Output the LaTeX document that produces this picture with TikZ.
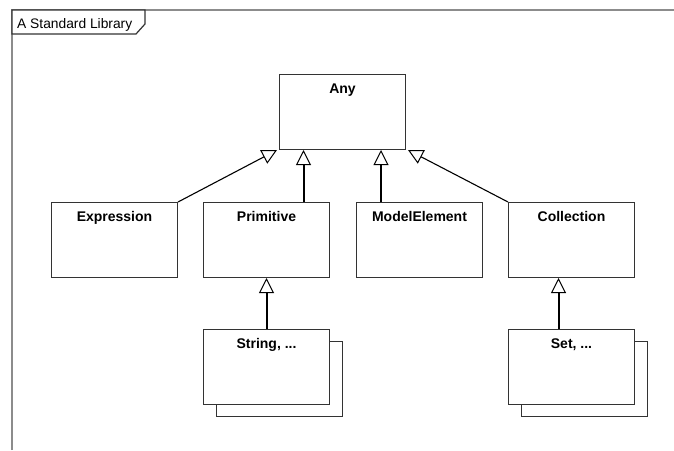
\documentclass[tikz,border=0pt]{standalone}
\usepackage{fontspec}
\setmainfont{Liberation Sans}
\usetikzlibrary{arrows.meta}
\definecolor{framegray}{HTML}{8C8C8C}
\definecolor{boxline}{HTML}{333333}
\tikzset{
  umlbox/.style={draw=boxline, line width=1pt, fill=white, minimum width=126pt, minimum height=75pt, inner sep=0pt, anchor=north west},
  lbl/.style={font=\fontsize{14}{16}\selectfont\bfseries, anchor=base, inner sep=0pt},
  gen/.style={draw=black, -{Triangle[open, length=15pt, width=15pt, line width=1pt]}},
  thinshaft/.style={gen, line width=1.1pt},
  thickshaft/.style={gen, line width=2pt},
}
\begin{document}
\begin{tikzpicture}[x=1pt,y=-1pt]
\useasboundingbox (0,0) rectangle (674,450);
\fill[white] (0,0) rectangle (674,450);
% frame
\draw[framegray, line width=1.3pt] (12,450) -- (12,10) -- (674,10);
\draw[boxline, line width=1.2pt, fill=white] (12,10) -- (145,10) -- (145,24) -- (136,34) -- (12,34) -- cycle;
\node[font=\fontsize{13.8}{15}\selectfont, anchor=base west, inner sep=0pt] (title) at (17,28) {A Standard Library};
% boxes
\node[umlbox] (any) at (279,74) {};
\node[lbl] (anyt) at ([yshift=-19pt]any.north) {Any};
\node[umlbox] (expr) at (51,202) {};
\node[lbl] (exprt) at ([yshift=-19pt]expr.north) {Expression};
\node[umlbox] (prim) at (203,202) {};
\node[lbl] (primt) at ([yshift=-19pt]prim.north) {Primitive};
\node[umlbox] (model) at (356,202) {};
\node[lbl] (modelt) at ([yshift=-19pt]model.north) {ModelElement};
\node[umlbox] (coll) at (508,202) {};
\node[lbl] (collt) at ([yshift=-19pt]coll.north) {Collection};
% stacked boxes
\node[umlbox] (strshadow) at (216,341) {};
\node[umlbox] (str) at (203,329) {};
\node[lbl] (strt) at ([yshift=-19pt]str.north) {String, ...};
\node[umlbox] (setshadow) at (521,341) {};
\node[umlbox] (set) at (508,329) {};
\node[lbl] (sett) at ([yshift=-19pt]set.north) {Set, ...};
% generalizations
\coordinate (tipP) at ([xshift=24.5pt]any.south west);
\coordinate (tipM) at ([xshift=-25pt]any.south east);
\draw[thinshaft] (expr.north east) -- ([xshift=-2pt]any.south west);
\draw[thinshaft] (coll.north west) -- ([xshift=2pt]any.south east);
\draw[thickshaft] (prim.north -| tipP) -- (tipP);
\draw[thickshaft] (model.north -| tipM) -- (tipM);
\draw[thickshaft] (str.north) -- (prim.south);
\coordinate (tipS) at ([xshift=-13pt]coll.south);
\draw[thickshaft] (set.north -| tipS) -- (tipS);
\end{tikzpicture}
\end{document}
